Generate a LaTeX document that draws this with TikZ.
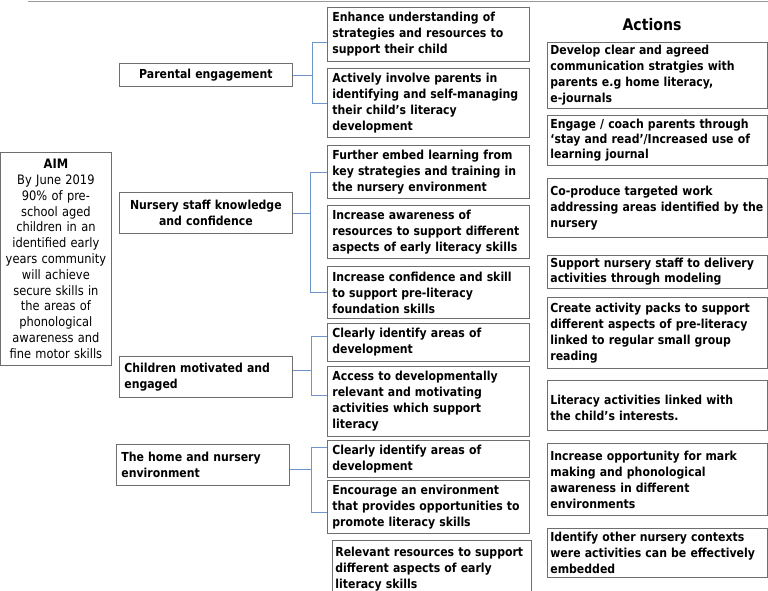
\documentclass[tikz,border=0pt]{standalone}
\usepackage{fontspec}
\setmainfont{DejaVu Sans}[FakeStretch=0.88]
\usetikzlibrary{positioning}
\definecolor{linkblue}{RGB}{110,150,205}
\definecolor{boxgray}{RGB}{110,110,110}

\begin{document}
\begin{tikzpicture}[
    x=1pt, y=-1pt,
    box/.style={rectangle, draw=boxgray, line width=0.8pt, inner xsep=5pt, inner ysep=1pt, anchor=north west, font=\fontsize{12.4}{16}\selectfont\bfseries},
    aim/.style={box, font=\fontsize{13}{15.8}\selectfont, inner xsep=3pt, text width=105pt, align=center, minimum height=213pt},
    goal/.style={box, text width=163pt},
    outcome/.style={box, text width=192pt, align=left},
    action/.style={box, inner xsep=3pt, text width=214pt, align=left},
    tight/.style={font=\fontsize{12.4}{15}\selectfont\bfseries},
    link/.style={draw=linkblue, line width=0.8pt}
]
\useasboundingbox (0,0) rectangle (768,590);
\draw[boxgray!70, line width=0.8pt] (28,1) -- (768,1);

\node[aim] (aim) at (0,152) {\textbf{AIM}\\By June 2019\\90\% of pre-\\school aged\\children in an\\identified early\\years community\\will achieve\\secure skills in\\the areas of\\phonological\\awareness and\\fine motor skills};

\node[goal, align=center, minimum height=23pt] (par) at (119,63) {Parental engagement};
\node[goal, align=center, minimum height=41pt] (nur) at (119,192) {Nursery staff knowledge\\and confidence};
\node[goal, align=left, minimum height=41pt] (chi) at (119,356) {Children motivated and\\engaged};
\node[goal, align=left, minimum height=41pt] (home) at (116,444) {The home and nursery\\environment};

\node[outcome, minimum height=54pt] (e1) at (327,7) {Enhance understanding of\\strategies and resources to\\support their child};
\node[outcome, minimum height=69pt] (e2) at (327,68) {Actively involve parents in\\identifying and self-managing\\their child's literacy\\development};
\node[outcome, minimum height=53pt] (n1) at (327,145) {Further embed learning from\\key strategies and training in\\the nursery environment};
\node[outcome, minimum height=53pt] (n2) at (327,205) {Increase awareness of\\resources to support different\\aspects of early literacy skills};
\node[outcome, minimum height=52pt] (n3) at (327,266) {Increase confidence and skill\\to support pre-literacy\\foundation skills};
\node[outcome, minimum height=38pt] (c1) at (327,323) {Clearly identify areas of\\development};
\node[outcome, minimum height=70pt] (c2) at (327,366) {Access to developmentally\\relevant and motivating\\activities which support\\literacy};
\node[outcome, minimum height=37pt] (h1) at (327,440) {Clearly identify areas of\\development};
\node[outcome, minimum height=53pt] (h2) at (327,480) {Encourage an environment\\that provides opportunities to\\promote literacy skills};
\node[outcome, text width=193pt, inner xsep=3pt, minimum height=57pt] (h3) at (332,540) {Relevant resources to support\\different aspects of early\\literacy skills};

\node[font=\fontsize{16}{18}\selectfont\bfseries] (title) at (652,25) {Actions};
\node[action, minimum height=66pt] (a1) at (547,42) {Develop clear and agreed\\communication stratgies with\\parents e.g home literacy,\\e-journals};
\node[action, tight, minimum height=50pt] (a2) at (547,115) {Engage / coach parents through\\`stay and read'/Increased use of\\learning journal};
\node[action, minimum height=59pt] (a3) at (547,178) {Co-produce targeted work\\addressing areas identified by the\\nursery};
\node[action, tight, minimum height=33pt] (a4) at (547,255) {Support nursery staff to delivery\\activities through modeling};
\node[action, minimum height=71pt] (a5) at (547,297) {Create activity packs to support\\different aspects of pre-literacy\\linked to regular small group\\reading};
\node[action, minimum height=50pt] (a6) at (547,380) {\mbox{}\\[-2pt]Literacy activities linked with\\the child's interests.};
\node[action, minimum height=72pt] (a7) at (547,443) {Increase opportunity for mark\\making and phonological\\awareness in different\\environments};
\node[action, minimum height=49pt] (a8) at (547,528) {Identify other nursery contexts\\were activities can be effectively\\embedded};

\draw[link] (par.east) -- ++(20,0) |- ([yshift=-8pt]e1.west);
\draw[link] (par.east) -- ++(20,0) |- (e2.west);
\draw[link] (nur.east) -- ++(18,0) |- (n1.west);
\draw[link] (nur.east) -- ++(18,0) |- (n3.west);
\draw[link] ([yshift=7pt]chi.east) -- ++(19,0) |- ([yshift=6pt]c1.west);
\draw[link] ([yshift=7pt]chi.east) -- ++(19,0) |- ([yshift=6pt]c2.west);
\draw[link] ([yshift=-4pt]home.east) -- ++(22,0) |- ([yshift=12pt]h1.west);
\draw[link] ([yshift=-4pt]home.east) -- ++(22,0) |- ([yshift=-5pt]h2.west);

\end{tikzpicture}
\end{document}
